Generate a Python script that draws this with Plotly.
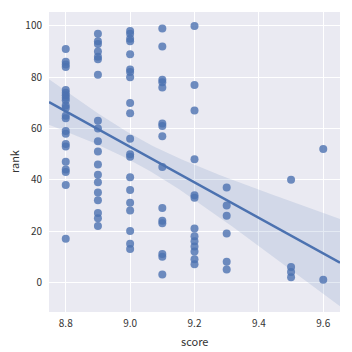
import numpy as np
import plotly.graph_objects as go

# data
s88 = [91, 86, 85, 84, 75, 74, 73, 72, 71, 69, 68, 65, 64, 59, 58, 54, 53, 47, 44, 43, 38, 17]
s89 = [97, 94, 93, 90, 88, 87, 81, 63, 60, 55, 51, 46, 42, 39, 35, 32, 27, 25, 22]
s90 = [98, 97, 95, 94, 89, 83, 82, 80, 70, 66, 56, 50, 49, 41, 36, 31, 28, 20, 15, 13]
s91 = [99, 92, 79, 78, 76, 62, 61, 57, 45, 29, 24, 23, 11, 10, 3]
s92 = [100, 77, 67, 48, 34, 33, 21, 18, 16, 14, 12, 9, 7]
s93 = [37, 30, 26, 19, 8, 5]
s95 = [40, 6, 4, 2]
s96 = [52, 1]
groups = {8.8: s88, 8.9: s89, 9.0: s90, 9.1: s91, 9.2: s92, 9.3: s93, 9.5: s95, 9.6: s96}

score = np.array([k for k, v in groups.items() for _ in v], dtype=float)
rank = np.array([r for v in groups.values() for r in v], dtype=float)

xrange_ = [8.748, 9.652]
yrange_ = [-11.6, 105.46]
xticks = [8.8, 9.0, 9.2, 9.4, 9.6]
yticks = [0, 20, 40, 60, 80, 100]

color = "#4C72B0"

# linear fit and 95% confidence band
n = len(score)
b, a = np.polyfit(score, rank, 1)
xg = np.linspace(xrange_[0], xrange_[1], 100)
yg = a + b * xg
resid = rank - (a + b * score)
s = np.sqrt(np.sum(resid ** 2) / (n - 2))
xm = score.mean()
sxx = np.sum((score - xm) ** 2)
se = s * np.sqrt(1.0 / n + (xg - xm) ** 2 / sxx)
t = 1.99
lo, hi = yg - t * se, yg + t * se

fig = go.Figure()
fig.add_trace(go.Scatter(x=np.concatenate([xg, xg[::-1]]), y=np.concatenate([hi, lo[::-1]]),
                         fill="toself", fillcolor="rgba(76,114,176,0.15)",
                         line=dict(width=0), hoverinfo="skip", showlegend=False))
fig.add_trace(go.Scatter(x=score, y=rank, mode="markers",
                         marker=dict(color=color, size=8, opacity=0.8, line=dict(width=0)),
                         showlegend=False))
fig.add_trace(go.Scatter(x=xg, y=yg, mode="lines", line=dict(color=color, width=2.5),
                         showlegend=False))

font = "Noto Sans CJK SC, DejaVu Sans, sans-serif"
fig.update_layout(
    width=352, height=352,
    margin=dict(l=49, r=12, t=12, b=40),
    paper_bgcolor="white", plot_bgcolor="#EAEAF2",
    font=dict(family=font, size=10, color="#333333"),
    xaxis=dict(range=xrange_, tickvals=xticks, ticktext=[f"{v:.1f}" for v in xticks],
               showgrid=True, gridcolor="white", gridwidth=1, zeroline=False,
               showline=False, ticks="", ticklabelstandoff=4, automargin=False),
    yaxis=dict(range=yrange_, tickvals=yticks, showgrid=True, gridcolor="white", gridwidth=1,
               zeroline=False, showline=False, ticks="", ticklabelstandoff=6, automargin=False),
    annotations=[
        dict(text="score", xref="paper", yref="paper", x=0.5, y=0, yanchor="middle",
             yshift=-29, showarrow=False, font=dict(size=11)),
        dict(text="rank", xref="paper", yref="paper", x=0, y=0.5, xanchor="center",
             xshift=-35, textangle=-90, showarrow=False, font=dict(size=11)),
    ],
)
fig.write_html("out.html")
